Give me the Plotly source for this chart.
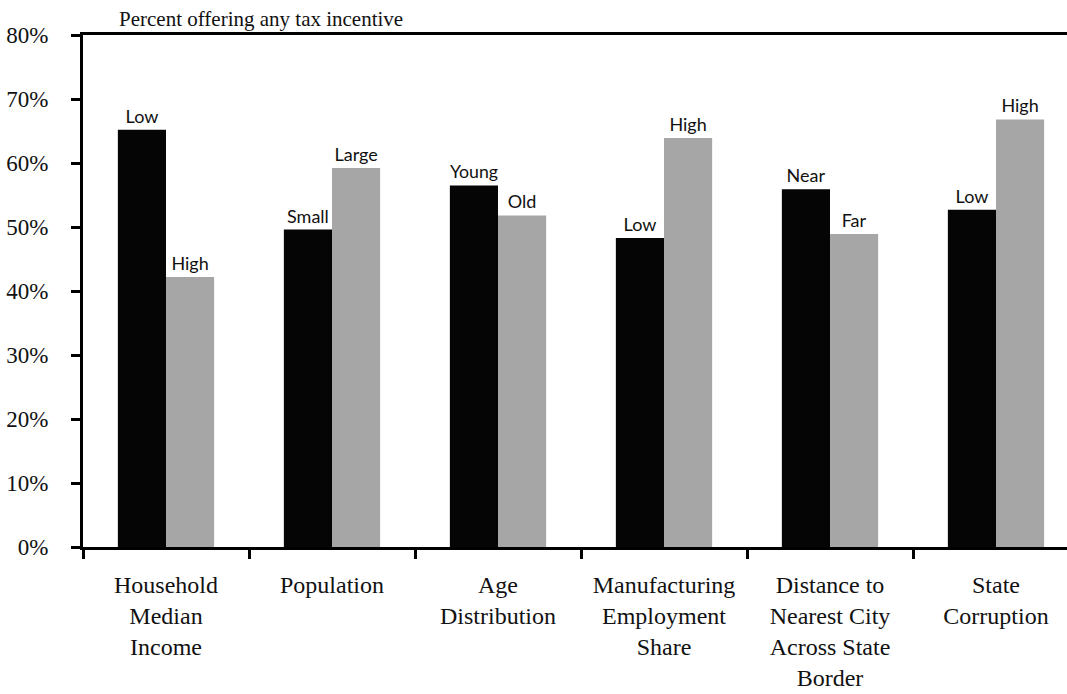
import plotly.graph_objects as go

categories = ["Household<br>Median<br>Income", "Population", "Age<br>Distribution",
              "Manufacturing<br>Employment<br>Share",
              "Distance to<br>Nearest City<br>Across State<br>Border",
              "State<br>Corruption"]
first_values = [65.2, 49.6, 56.5, 48.3, 55.9, 52.7]
second_values = [42.2, 59.2, 51.8, 63.9, 48.9, 66.8]
first_labels = ["Low", "Small", "Young", "Low", "Near", "Low"]
second_labels = ["High", "Large", "Old", "High", "Far", "High"]
y_ticks = [0, 10, 20, 30, 40, 50, 60, 70, 80]

W, H = 1067, 694
ml, mr, mt, mb = 83, 0, 35, 147

fig = go.Figure()
fig.add_bar(x=categories, y=first_values, text=first_labels, textposition="outside",
            marker=dict(color="#050505", line=dict(width=0)),
            textfont=dict(family="Lato", size=18, color="#111111"),
            cliponaxis=False, showlegend=False)
fig.add_bar(x=categories, y=second_values, text=second_labels, textposition="outside",
            marker=dict(color="#a6a6a6", line=dict(width=0)),
            textfont=dict(family="Lato", size=18, color="#111111"),
            cliponaxis=False, showlegend=False)

plot_w = W - ml - mr
cat_w = 166
xmax = -0.5 + plot_w / cat_w

fig.update_layout(
    width=W, height=H,
    margin=dict(l=ml, r=mr, t=mt, b=mb, pad=0, autoexpand=False),
    paper_bgcolor="white", plot_bgcolor="white",
    barmode="group", bargap=0.42, bargroupgap=0,
    font=dict(family="Liberation Serif", color="#111111"),
    xaxis=dict(type="category", range=[-0.5, xmax], showline=True, linecolor="black",
               linewidth=3, mirror=True, ticks="outside", tickson="boundaries",
               ticklen=9, tickwidth=3, tickcolor="black", showgrid=False,
               automargin=False,
               tickfont=dict(family="Liberation Serif", size=24, color="#111111"),
               ticklabelstandoff=14),
    yaxis=dict(range=[0, 80], tickvals=y_ticks, ticktext=[f"{v}%" for v in y_ticks],
               showline=True, linecolor="black", linewidth=3, ticks="outside",
               ticklen=9, tickwidth=3, tickcolor="black", showgrid=False, zeroline=False,
               automargin=False,
               tickfont=dict(family="Liberation Serif", size=23, color="#111111"),
               ticklabelstandoff=18),
    annotations=[dict(text="Percent offering any tax incentive", xref="paper", yref="paper",
                      x=(117 - ml) / plot_w, y=1, xanchor="left", yanchor="bottom",
                      yshift=2, showarrow=False,
                      font=dict(family="Liberation Serif", size=21, color="#111111"))],
)

fig.write_html("out.html", config={"displayModeBar": False},
               post_script="document.body.style.margin='0';document.body.style.overflow='hidden';")
